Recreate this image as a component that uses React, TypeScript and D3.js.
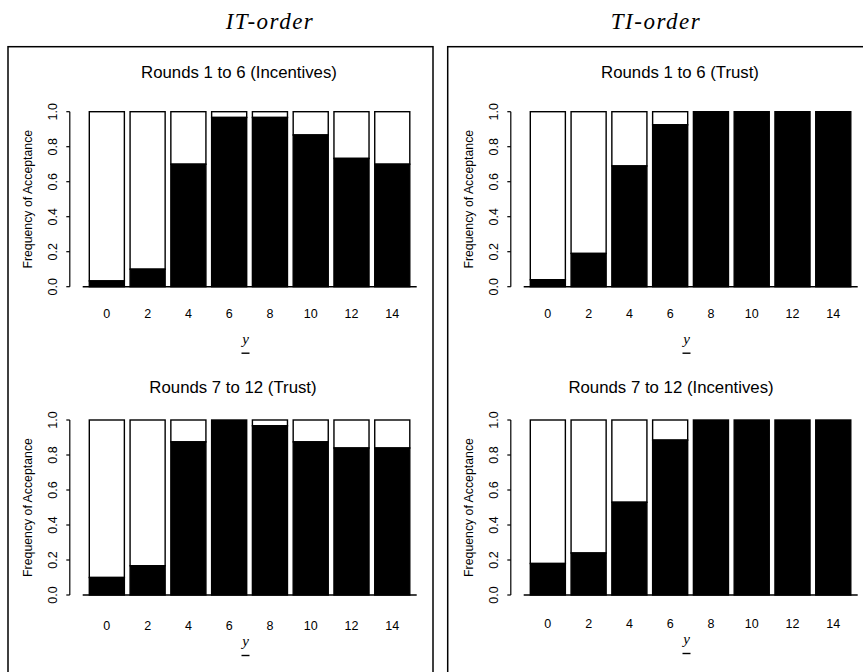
import React from "react";
import * as d3 from "d3";

const yValues = [0, 2, 4, 6, 8, 10, 12, 14];
const itRounds1to6 = [0.033, 0.1, 0.7, 0.967, 0.967, 0.867, 0.733, 0.7];
const itRounds7to12 = [0.1, 0.167, 0.875, 1.0, 0.967, 0.875, 0.84, 0.84];
const tiRounds1to6 = [0.04, 0.19, 0.69, 0.925, 1.0, 1.0, 1.0, 1.0];
const tiRounds7to12 = [0.18, 0.24, 0.53, 0.885, 1.0, 1.0, 1.0, 1.0];
const yTicks = [0, 0.2, 0.4, 0.6, 0.8, 1.0];
const columnTitles = ["IT", "TI"];
const panelTitles = [
  "Rounds 1 to 6 (Incentives)",
  "Rounds 7 to 12 (Trust)",
  "Rounds 1 to 6 (Trust)",
  "Rounds 7 to 12 (Incentives)",
];

const SANS = "'Liberation Sans', Arial, Helvetica, sans-serif";
const SERIF = "'Liberation Serif', 'Times New Roman', serif";

type PanelProps = {
  title: string;
  data: number[];
  ox: number;
  oy: number;
  titleX: number;
  titleGap: number;
  tickGap: number;
  labGap: number;
};

function Panel({ title, data, ox, oy, titleX, titleGap, tickGap, labGap }: PanelProps) {
  const plotTop = 111.7 + oy;
  const plotBottom = 286.7 + oy;
  const y = d3.scaleLinear().domain([0, 1]).range([plotBottom, plotTop]);
  const x = d3
    .scaleBand<number>()
    .domain(yValues)
    .range([89.3 + ox, 409.8 + ox])
    .paddingInner(0.14)
    .paddingOuter(0);
  const yAxisX = 69.8 + ox;
  return (
    <g>
      <text
        x={titleX}
        y={plotTop - titleGap}
        textAnchor="middle"
        fontFamily={SANS}
        fontSize={16.8}
        fill="#000"
      >
        {title}
      </text>
      {data.map((v, i) => {
        const x0 = x(yValues[i]) as number;
        const bw = x.bandwidth();
        return (
          <g key={i}>
            {v < 1 && (
              <rect
                x={x0}
                y={y(1)}
                width={bw}
                height={y(v) - y(1)}
                fill="#fff"
                stroke="#000"
                strokeWidth={1.4}
              />
            )}
            <rect
              x={x0}
              y={y(v)}
              width={bw}
              height={y(0) - y(v)}
              fill="#000"
              stroke="#000"
              strokeWidth={1.4}
            />
          </g>
        );
      })}
      <line
        x1={82.7 + ox}
        x2={416.7 + ox}
        y1={plotBottom}
        y2={plotBottom}
        stroke="#000"
        strokeWidth={1.5}
      />
      <line x1={yAxisX} x2={yAxisX} y1={y(1)} y2={y(0)} stroke="#000" strokeWidth={1.2} />
      {yTicks.map((t) => (
        <g key={t}>
          <line x1={yAxisX - 3.5} x2={yAxisX} y1={y(t)} y2={y(t)} stroke="#000" strokeWidth={1.2} />
          <text
            transform={`translate(${52 + ox},${y(t)}) rotate(-90)`}
            textAnchor="middle"
            dy="0.36em"
            fontFamily={SANS}
            fontSize={12.5}
            fill="#000"
          >
            {t.toFixed(1)}
          </text>
        </g>
      ))}
      <text
        transform={`translate(${28 + ox},${(plotTop + plotBottom) / 2}) rotate(-90)`}
        textAnchor="middle"
        dy="0.36em"
        fontFamily={SANS}
        fontSize={12.3}
        fill="#000"
      >
        Frequency of Acceptance
      </text>
      {yValues.map((v) => (
        <text
          key={v}
          x={(x(v) as number) + x.bandwidth() / 2}
          y={plotBottom + tickGap}
          dy="0.36em"
          textAnchor="middle"
          fontFamily={SANS}
          fontSize={12.5}
          fill="#000"
        >
          {v}
        </text>
      ))}
      <text
        x={245.7 + ox}
        y={plotBottom + labGap}
        textAnchor="middle"
        fontFamily={SERIF}
        fontStyle="italic"
        fontSize={15}
        fill="#000"
      >
        y
      </text>
      <line
        x1={241.5 + ox}
        x2={249.5 + ox}
        y1={plotBottom + labGap + 9.5}
        y2={plotBottom + labGap + 9.5}
        stroke="#000"
        strokeWidth={1.4}
      />
    </g>
  );
}

export default function App() {
  const panelOffsetX = 441;
  const panelOffsetY = 308.3;
  return (
    <svg
      width={863}
      height={672}
      style={{ position: "absolute", left: 0, top: 0, background: "#fff" }}
    >
      <rect x={0} y={0} width={863} height={672} fill="#fff" />
      {columnTitles.map((c, i) => (
        <text
          key={c}
          x={i === 0 ? 270 : 656}
          y={28.5}
          textAnchor="middle"
          fontFamily={SERIF}
          fontStyle="italic"
          fontSize={23}
          letterSpacing={1.5}
          fill="#000"
        >
          {c}-order
        </text>
      ))}
      <rect x={8} y={46.7} width={425} height={700} fill="none" stroke="#000" strokeWidth={1.5} />
      <rect x={447.7} y={46.7} width={425} height={700} fill="none" stroke="#000" strokeWidth={1.5} />
      <Panel title={panelTitles[0]} data={itRounds1to6} ox={0} oy={0} titleX={239} titleGap={34} tickGap={27} labGap={57} />
      <Panel title={panelTitles[1]} data={itRounds7to12} ox={0} oy={panelOffsetY} titleX={233} titleGap={27} tickGap={30} labGap={51} />
      <Panel title={panelTitles[2]} data={tiRounds1to6} ox={panelOffsetX} oy={0} titleX={680} titleGap={34} tickGap={27} labGap={57} />
      <Panel title={panelTitles[3]} data={tiRounds7to12} ox={panelOffsetX} oy={panelOffsetY} titleX={671} titleGap={27} tickGap={28} labGap={49} />
    </svg>
  );
}
